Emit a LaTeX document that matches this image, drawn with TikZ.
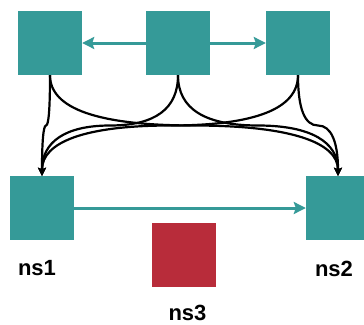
\documentclass[tikz,border=0pt]{standalone}
\usepackage{fontspec}
\setmainfont{Liberation Sans}
\usetikzlibrary{arrows.meta,calc}

\definecolor{tealbox}{RGB}{53,154,152}
\definecolor{redbox}{RGB}{184,44,58}

\tikzset{
  box/.style={draw=none, fill=tealbox, minimum width=64pt, minimum height=64pt, inner sep=0pt},
  redsq/.style={box, fill=redbox},
  lbl/.style={font=\fontsize{22}{26}\selectfont\bfseries, inner sep=0pt},
  flow/.style={draw=tealbox, line width=3pt, -{Stealth[length=12pt,width=12pt,inset=2pt]}},
  curve/.style={draw=black, line width=2.2pt, -{Stealth[length=8pt,width=8pt,inset=1.5pt]}}
}

% rounded orthogonal edge: out of the bottom of #1, along the middle line,
% down into the top of #2 (two quadratic pieces written as cubics)
\newcommand{\flowcurve}[2]{%
  \path (#1.south) coordinate (p0)
        (#1.south |- midline) coordinate (p1)
        (#2.north |- midline) coordinate (p2)
        (#2.north) coordinate (p3);
  \draw[curve] (p0) .. controls ($(p0)!2/3!(p1)$) and ($(p1)!1/6!(p2)$) .. ($(p1)!0.5!(p2)$)
               .. controls ($(p1)!5/6!(p2)$) and ($(p3)!2/3!(p2)$) .. (p3);
}

\begin{document}
\begin{tikzpicture}[x=1pt, y=-1pt]
  \useasboundingbox (0,0) rectangle (364,324);

  % upper row
  \node[box] (tl) at (50,43) {};
  \node[box] (tm) at (178,43) {};
  \node[box] (tr) at (298,43) {};

  % lower row
  \node[box] (b1) at (42,208) {};
  \node[box] (b2) at (338,208) {};
  \node[redsq] (b3) at (184,255) {};

  \node[lbl] (l1) at (37,268.5) {ns1};
  \node[lbl] (l2) at (334,268.5) {ns2};
  \node[lbl] (l3) at (187.5,312.5) {ns3};

  \coordinate (midline) at (0,125.5);

  % curved links from each upper box to ns1 and ns2
  \flowcurve{tl}{b1}
  \flowcurve{tl}{b2}
  \flowcurve{tm}{b1}
  \flowcurve{tm}{b2}
  \flowcurve{tr}{b1}
  \flowcurve{tr}{b2}

  % straight teal arrows
  \draw[flow] (tm.west) -- (tl.east);
  \draw[flow] (tm.east) -- (tr.west);
  \draw[flow] (b1.east) -- (b2.west);
\end{tikzpicture}
\end{document}
